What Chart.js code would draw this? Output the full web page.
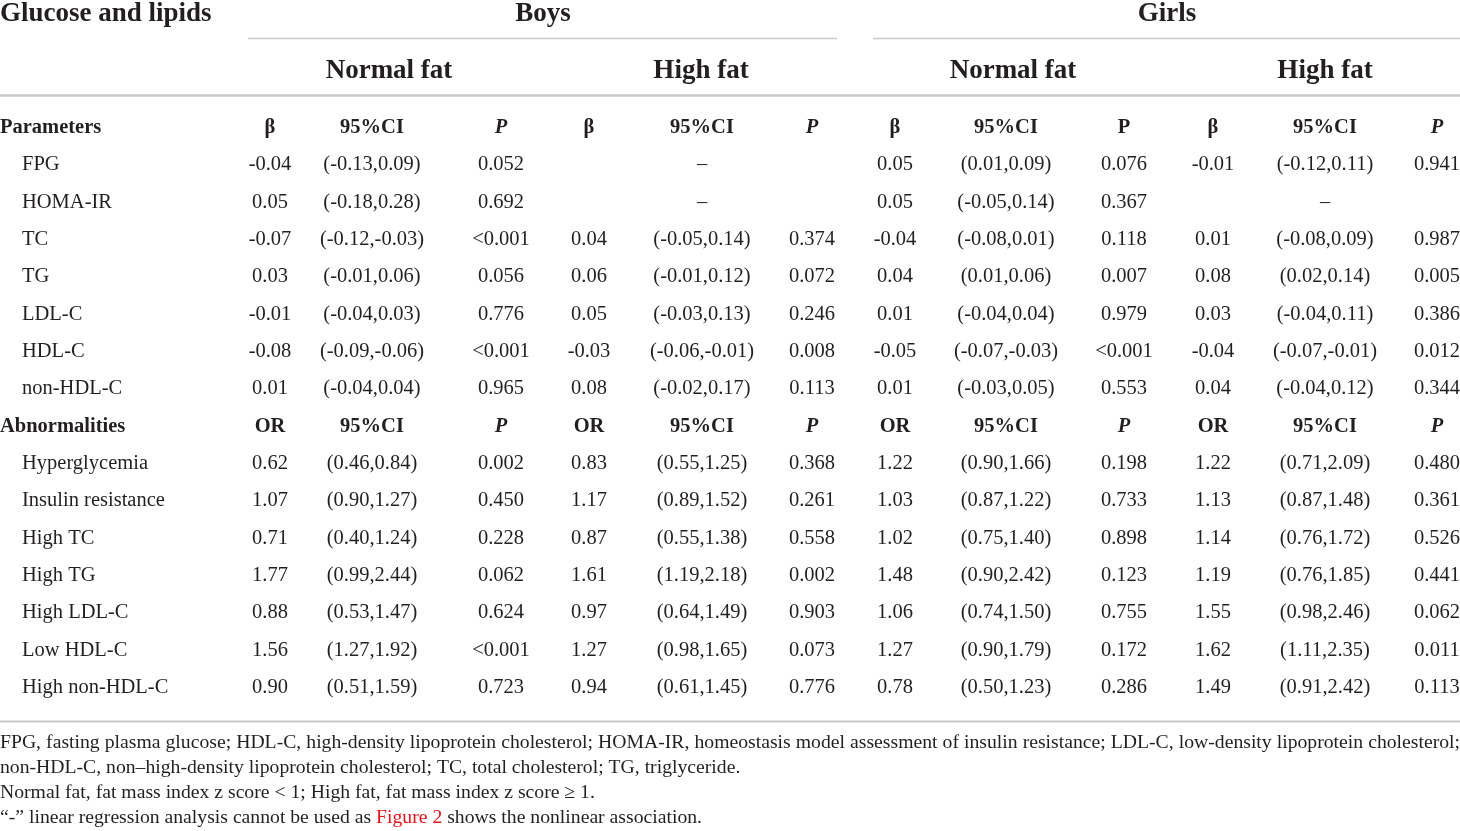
<!DOCTYPE html>
<html>
<head>
<meta charset="utf-8">
<script src="https://cdn.jsdelivr.net/npm/chart.js@4.4.1/dist/chart.umd.min.js"></script>
<style>
html,body{margin:0;padding:0;background:#fff;}
#wrap{width:1460px;height:831px;position:relative;}
</style>
</head>
<body>
<div id="wrap"><canvas id="c" width="1460" height="831"></canvas></div>
<script>
// ---------- DATA ----------
const tableTitle = "Glucose and lipids";
const sexGroups = ["Boys", "Girls"];
const fatGroups = ["Normal fat", "High fat", "Normal fat", "High fat"];
const sectionLabels = ["Parameters", "Abnormalities"];
const paramHeaders = ["β", "95%CI", "P"];
const abnHeaders = ["OR", "95%CI", "P"];
const paramRows = ["FPG", "HOMA-IR", "TC", "TG", "LDL-C", "HDL-C", "non-HDL-C"];
const abnRows = ["Hyperglycemia", "Insulin resistance", "High TC", "High TG", "High LDL-C", "Low HDL-C", "High non-HDL-C"];

// values: 7 parameter rows followed by 7 abnormality rows; null = not estimable ("–")
const boysNormalEst = ["-0.04","0.05","-0.07","0.03","-0.01","-0.08","0.01","0.62","1.07","0.71","1.77","0.88","1.56","0.90"];
const boysNormalCI  = ["(-0.13,0.09)","(-0.18,0.28)","(-0.12,-0.03)","(-0.01,0.06)","(-0.04,0.03)","(-0.09,-0.06)","(-0.04,0.04)","(0.46,0.84)","(0.90,1.27)","(0.40,1.24)","(0.99,2.44)","(0.53,1.47)","(1.27,1.92)","(0.51,1.59)"];
const boysNormalP   = ["0.052","0.692","<0.001","0.056","0.776","<0.001","0.965","0.002","0.450","0.228","0.062","0.624","<0.001","0.723"];

const boysHighEst = [null,null,"0.04","0.06","0.05","-0.03","0.08","0.83","1.17","0.87","1.61","0.97","1.27","0.94"];
const boysHighCI  = [null,null,"(-0.05,0.14)","(-0.01,0.12)","(-0.03,0.13)","(-0.06,-0.01)","(-0.02,0.17)","(0.55,1.25)","(0.89,1.52)","(0.55,1.38)","(1.19,2.18)","(0.64,1.49)","(0.98,1.65)","(0.61,1.45)"];
const boysHighP   = [null,null,"0.374","0.072","0.246","0.008","0.113","0.368","0.261","0.558","0.002","0.903","0.073","0.776"];

const girlsNormalEst = ["0.05","0.05","-0.04","0.04","0.01","-0.05","0.01","1.22","1.03","1.02","1.48","1.06","1.27","0.78"];
const girlsNormalCI  = ["(0.01,0.09)","(-0.05,0.14)","(-0.08,0.01)","(0.01,0.06)","(-0.04,0.04)","(-0.07,-0.03)","(-0.03,0.05)","(0.90,1.66)","(0.87,1.22)","(0.75,1.40)","(0.90,2.42)","(0.74,1.50)","(0.90,1.79)","(0.50,1.23)"];
const girlsNormalP   = ["0.076","0.367","0.118","0.007","0.979","<0.001","0.553","0.198","0.733","0.898","0.123","0.755","0.172","0.286"];

const girlsHighEst = ["-0.01",null,"0.01","0.08","0.03","-0.04","0.04","1.22","1.13","1.14","1.19","1.55","1.62","1.49"];
const girlsHighCI  = ["(-0.12,0.11)",null,"(-0.08,0.09)","(0.02,0.14)","(-0.04,0.11)","(-0.07,-0.01)","(-0.04,0.12)","(0.71,2.09)","(0.87,1.48)","(0.76,1.72)","(0.76,1.85)","(0.98,2.46)","(1.11,2.35)","(0.91,2.42)"];
const girlsHighP   = ["0.941",null,"0.987","0.005","0.386","0.012","0.344","0.480","0.361","0.526","0.441","0.062","0.011","0.113"];

const footnotes = [
  "FPG, fasting plasma glucose; HDL-C, high-density lipoprotein cholesterol; HOMA-IR, homeostasis model assessment of insulin resistance; LDL-C, low-density lipoprotein cholesterol;",
  "non-HDL-C, non\u2013high-density lipoprotein cholesterol; TC, total cholesterol; TG, triglyceride.",
  "Normal fat, fat mass index z score < 1; High fat, fat mass index z score \u2265 1."
];
const lastNote = ["\u201c-\u201d linear regression analysis cannot be used as ", "Figure 2", " shows the nonlinear association."];

// ---------- LAYOUT / STYLE ----------
const groupCols = [
  {est: boysNormalEst, ci: boysNormalCI, p: boysNormalP},
  {est: boysHighEst, ci: boysHighCI, p: boysHighP},
  {est: girlsNormalEst, ci: girlsNormalCI, p: girlsNormalP},
  {est: girlsHighEst, ci: girlsHighCI, p: girlsHighP}
];
const colX = [[270,372,501],[589,702,812],[895,1006,1124],[1213,1325,1437]];
const fatX = [389,701,1013,1325];
const sexX = [543,1167];
const sexRule = [[248,837],[873,1460]];
const ROW_H = 37.33, ROW0 = 126;
const toRow = px => (px - ROW0) / ROW_H;
const INK = "#231f20";
const RULE = "#c9c9c9";
const SERIF = "'Liberation Serif','Times New Roman',serif";
const pItalicFlags = [[true,true,false,true],[true,true,true,true]];

const allRows = [];
allRows.push({type:"section", label: sectionLabels[0], hdr: paramHeaders, s:0});
paramRows.forEach((r,i)=>allRows.push({type:"data", label:r, idx:i}));
allRows.push({type:"section", label: sectionLabels[1], hdr: abnHeaders, s:1});
abnRows.forEach((r,i)=>allRows.push({type:"data", label:r, idx:i+7}));

const tablePlugin = {
  id: "tablePlugin",
  afterDraw(chart) {
    const ctx = chart.ctx;
    const xs = chart.scales.x, ys = chart.scales.y;
    const X = v => xs.getPixelForValue(v);
    const Y = v => ys.getPixelForValue(v);
    ctx.save();
    ctx.fillStyle = INK;
    ctx.textBaseline = "alphabetic";
    const txt = (s, x, yc, font, align, dy) => {
      ctx.font = font; ctx.textAlign = align || "center";
      ctx.fillText(s, X(x), Y(yc) + (dy === undefined ? 7 : dy));
    };
    // rules
    ctx.strokeStyle = RULE;
    const hline = (x0, x1, yv, w) => {
      ctx.lineWidth = w; ctx.beginPath();
      ctx.moveTo(X(x0), Math.round(Y(yv)) + 0.5); ctx.lineTo(X(x1), Math.round(Y(yv)) + 0.5); ctx.stroke();
    };
    sexRule.forEach(r => hline(r[0], r[1], toRow(38), 1.5));
    hline(0, 1460, toRow(95), 2.5);
    hline(0, 1460, toRow(720.5), 2);

    // headers
    const hfont = "bold 27px " + SERIF;
    txt(tableTitle, 0, toRow(12), hfont, "left", 9);
    sexGroups.forEach((g,i)=>txt(g, sexX[i], toRow(12), hfont, "center", 9));
    fatGroups.forEach((g,i)=>txt(g, fatX[i], toRow(69), hfont, "center", 9));

    // body
    const BF = "20.5px ";
    allRows.forEach((row, r) => {
      if (row.type === "section") {
        txt(row.label, 0, r, "bold " + BF + SERIF, "left");
        colX.forEach((cx, g) => {
          row.hdr.forEach((h, k) => {
            let f = "bold " + BF + SERIF;
            if (k === 2 && pItalicFlags[row.s][g]) f = "italic bold " + BF + SERIF;
            txt(h, cx[k], r, f);
          });
        });
      } else {
        const f = BF + SERIF;
        txt(row.label, 22, r, f, "left");
        groupCols.forEach((gc, g) => {
          const e = gc.est[row.idx];
          if (e === null) { txt("\u2013", colX[g][1], r, f); return; }
          txt(e, colX[g][0], r, f);
          txt(gc.ci[row.idx], colX[g][1], r, f);
          txt(gc.p[row.idx], colX[g][2], r, f);
        });
      }
    });

    // footnotes
    const ffont = "19.7px " + SERIF;
    ctx.font = ffont; ctx.textAlign = "left";
    const base = [748, 773, 798, 823];
    // first line justified
    const words = footnotes[0].split(" ");
    const ww = words.map(w => ctx.measureText(w).width);
    const total = ww.reduce((a,b)=>a+b,0);
    const gap = (X(1460) - X(0) - total) / (words.length - 1);
    let px = X(0);
    words.forEach((w,i)=>{ ctx.fillText(w, px, Y(toRow(base[0]))); px += ww[i] + gap; });
    ctx.fillText(footnotes[1], X(0), Y(toRow(base[1])));
    ctx.fillText(footnotes[2], X(0), Y(toRow(base[2])));
    px = X(0);
    lastNote.forEach((s,i)=>{
      ctx.fillStyle = i === 1 ? "#e4141c" : INK;
      ctx.fillText(s, px, Y(toRow(base[3])));
      px += ctx.measureText(s).width;
    });
    ctx.restore();
  }
};

new Chart(document.getElementById("c"), {
  type: "scatter",
  data: { datasets: [{ data: [], pointRadius: 0 }] },
  options: {
    responsive: false,
    animation: false,
    layout: { padding: 0 },
    plugins: { legend: { display: false }, tooltip: { enabled: false } },
    scales: {
      x: { type: "linear", min: 0, max: 1460, display: false },
      y: { type: "linear", min: toRow(0), max: toRow(831), reverse: true, display: false }
    }
  },
  plugins: [tablePlugin]
});
</script>
</body>
</html>
